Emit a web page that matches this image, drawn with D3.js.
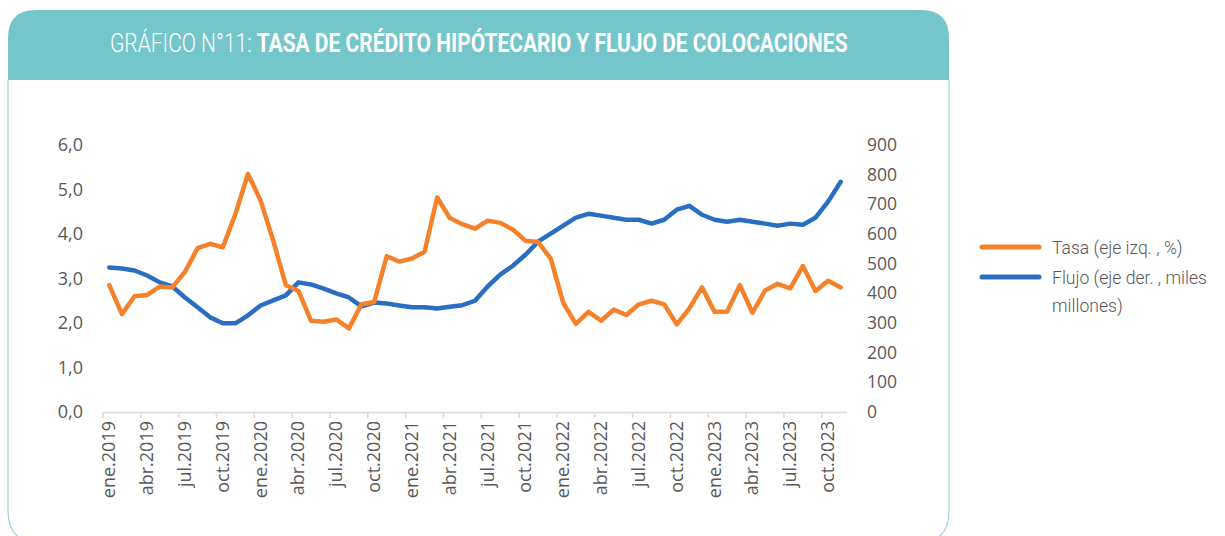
<!DOCTYPE html>
<html>
<head>
<meta charset="utf-8">
<script src="https://cdn.jsdelivr.net/npm/d3@7"></script>
<style>
  html, body { margin: 0; padding: 0; background: #fff; }
  svg { display: block; }
  .tick text { fill: #595959; font-family: "Open Sans", sans-serif; }
</style>
</head>
<body>
<svg id="chart" width="1225" height="536"></svg>
<script>
// --- data (ene.2019 .. nov.2023, monthly) ---
const monthNames = ['ene', 'feb', 'mar', 'abr', 'may', 'jun', 'jul', 'ago', 'sep', 'oct', 'nov', 'dic'];
const years = [2019, 2020, 2021, 2022, 2023];
const months = years.flatMap(y => monthNames.map(m => `${m}.${y}`)).slice(0, 59);

// Tasa (eje izq., %)
const tasa = [
  2.85, 2.20, 2.60, 2.63, 2.82, 2.80, 3.15, 3.68, 3.78, 3.70,
  4.45, 5.35, 4.75, 3.85, 2.85, 2.72, 2.05, 2.03, 2.08, 1.88,
  2.42, 2.47, 3.50, 3.38, 3.45, 3.60, 4.82, 4.36, 4.22, 4.12,
  4.30, 4.25, 4.10, 3.85, 3.82, 3.45, 2.45, 1.98, 2.25, 2.05,
  2.30, 2.18, 2.42, 2.50, 2.42, 1.97, 2.33, 2.80, 2.25, 2.26,
  2.85, 2.23, 2.73, 2.88, 2.78, 3.28, 2.72, 2.95, 2.80
];

// Flujo (eje der., miles millones)
const flujo = [
  487, 484, 477, 460, 437, 423, 386, 353, 319, 299,
  299, 326, 359, 376, 393, 437, 430, 416, 400, 386,
  356, 369, 366, 359, 353, 353, 349, 355, 360, 375,
  423, 463, 493, 530, 574, 601, 628, 655, 668, 662,
  655, 648, 648, 635, 648, 682, 695, 665, 648, 641,
  648, 641, 635, 628, 635, 631, 655, 709, 776
];

const leftTicks = [0, 1, 2, 3, 4, 5, 6];
const rightTicks = [0, 100, 200, 300, 400, 500, 600, 700, 800, 900];

const title1 = 'GRÁFICO N°11: ';
const title2 = 'TASA DE CRÉDITO HIPÓTECARIO Y FLUJO DE COLOCACIONES';
const legendItems = [
  { lines: ['Tasa (eje izq. , %)'], color: '#F5822A' },
  { lines: ['Flujo (eje der. , miles', 'millones)'], color: '#2A6EC3' }
];

const svg = d3.select('#chart');

// --- card frame + header (bottom runs off the page) ---
const cx0 = 8, cx1 = 949, ctop = 10, hbot = 80, cbot = 543, r = 28, rb = 32;
svg.append('path')
  .attr('d', `M${cx0},${hbot} V${cbot - rb} Q${cx0},${cbot} ${cx0 + rb},${cbot} H${cx1 - rb} Q${cx1},${cbot} ${cx1},${cbot - rb} V${hbot}`)
  .attr('fill', 'none')
  .attr('stroke', '#9fd6da')
  .attr('stroke-width', 1.2);

svg.append('path')
  .attr('d', `M${cx0},${hbot} V${ctop + r} Q${cx0},${ctop} ${cx0 + r},${ctop} H${cx1 - r} Q${cx1},${ctop} ${cx1},${ctop + r} V${hbot} Z`)
  .attr('fill', '#74C6CB');

const title = svg.append('text')
  .attr('x', 0).attr('y', 0)
  .attr('font-family', 'Roboto, sans-serif')
  .attr('font-size', 26)
  .attr('fill', '#fff');
title.append('tspan').attr('font-weight', 300).text(title1);
title.append('tspan').attr('font-weight', 700).text(title2);
const tw = title.node().getComputedTextLength();
title.attr('transform', `translate(110,52) scale(${738 / tw},1)`);

// --- scales ---
const x = d3.scalePoint().domain(months).range([103, 847]).padding(0.5);
const step = x.step();
const yL = d3.scaleLinear().domain([0, 6]).range([412, 145]);
const yR = d3.scaleLinear().domain([0, 900]).range([412, 145]);

// x axis line + ticks at quarter boundaries
const labelMonths = months.filter((_, i) => i % 3 === 0);
svg.append('line')
  .attr('x1', 103).attr('x2', 847).attr('y1', 412.5).attr('y2', 412.5)
  .attr('stroke', '#d9d9d9').attr('stroke-width', 1.5);
svg.append('g').selectAll('line')
  .data(labelMonths)
  .join('line')
  .attr('x1', d => x(d) - step / 2).attr('x2', d => x(d) - step / 2)
  .attr('y1', 412).attr('y2', 418)
  .attr('stroke', '#d9d9d9').attr('stroke-width', 1.5);

svg.append('g').selectAll('text')
  .data(labelMonths)
  .join('text')
  .attr('transform', d => `translate(${x(d) + 6},421) rotate(-90)`)
  .attr('text-anchor', 'end')
  .attr('font-family', '"Open Sans", sans-serif')
  .attr('font-size', 18)
  .attr('fill', '#595959')
  .text(d => d);

// y axes
const fmtL = d => d.toFixed(1).replace('.', ',');
svg.append('g')
  .attr('transform', 'translate(103,0)')
  .call(d3.axisLeft(yL).tickValues(leftTicks).tickFormat(fmtL).tickSize(0).tickPadding(20))
  .call(g => g.select('.domain').remove())
  .selectAll('text').attr('font-size', 18);

svg.append('g')
  .attr('transform', 'translate(847,0)')
  .call(d3.axisRight(yR).tickValues(rightTicks).tickSize(0).tickPadding(20))
  .call(g => g.select('.domain').remove())
  .selectAll('text').attr('font-size', 17.5);

// --- lines ---
const lineL = d3.line().x((_, i) => x(months[i])).y(d => yL(d));
const lineR = d3.line().x((_, i) => x(months[i])).y(d => yR(d));

svg.append('path')
  .datum(flujo)
  .attr('d', lineR)
  .attr('fill', 'none')
  .attr('stroke', legendItems[1].color)
  .attr('stroke-width', 4.5)
  .attr('stroke-linejoin', 'round')
  .attr('stroke-linecap', 'round');

svg.append('path')
  .datum(tasa)
  .attr('d', lineL)
  .attr('fill', 'none')
  .attr('stroke', legendItems[0].color)
  .attr('stroke-width', 4.5)
  .attr('stroke-linejoin', 'round')
  .attr('stroke-linecap', 'round');

// --- legend ---
const leg = svg.append('g');
legendItems.forEach((it, k) => {
  const ly = 247 + k * 30;
  leg.append('line')
    .attr('x1', 982).attr('x2', 1039).attr('y1', ly).attr('y2', ly)
    .attr('stroke', it.color).attr('stroke-width', 5).attr('stroke-linecap', 'round');
  it.lines.forEach((s, j) => {
    const t = leg.append('text')
      .attr('font-family', 'Roboto, sans-serif')
      .attr('font-weight', 300)
      .attr('font-size', 18.5)
      .attr('fill', '#595959')
      .text(s);
    t.attr('transform', `translate(1052,${ly + 7 + j * 28}) scale(0.95,1)`);
  });
});
</script>
</body>
</html>
